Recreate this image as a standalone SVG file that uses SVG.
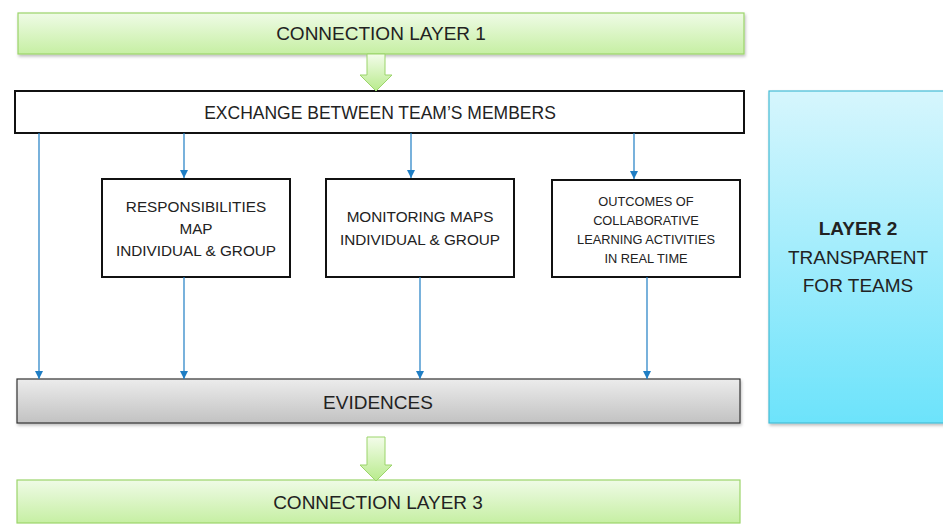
<svg xmlns="http://www.w3.org/2000/svg" width="943" height="525" viewBox="0 0 943 525">
<defs>
<linearGradient id="gGreen" x1="0" y1="0" x2="0" y2="1"><stop offset="0" stop-color="#effbe6"/><stop offset="1" stop-color="#c6efa3"/></linearGradient>
<linearGradient id="gArrow" x1="0" y1="0" x2="0" y2="1"><stop offset="0" stop-color="#f3fcea"/><stop offset="1" stop-color="#b8eb8c"/></linearGradient>
<linearGradient id="gGray" x1="0" y1="0" x2="0" y2="1"><stop offset="0" stop-color="#ececec"/><stop offset="1" stop-color="#c2c2c2"/></linearGradient>
<linearGradient id="gCyan" x1="0" y1="0" x2="0" y2="1"><stop offset="0" stop-color="#d6f6fd"/><stop offset="1" stop-color="#6ce3fb"/></linearGradient>
<filter id="sh" x="-5%" y="-10%" width="110%" height="130%"><feDropShadow dx="1" dy="2" stdDeviation="1.5" flood-color="#000" flood-opacity="0.25"/></filter>
<marker id="ah" viewBox="0 0 8 8" refX="8" refY="4" markerWidth="8" markerHeight="8" orient="auto" markerUnits="userSpaceOnUse">
<path d="M0,0 L8,4 L0,8 Z" fill="#1f7ec4"/></marker>
</defs>
<style>
text{font-family:"Liberation Sans",Arial,sans-serif;fill:#222;text-anchor:middle}
.t19{font-size:19px}
.t17{font-size:17.5px}
.t15{font-size:15.3px}
.t13{font-size:12.8px}
.box{fill:#fff;stroke:#111;stroke-width:2}
.link{stroke:#1f7ec4;stroke-width:1.2;fill:none}
.barrow{fill:url(#gArrow);stroke:#9bd46a;stroke-width:1}
</style>

<g id="layer1">
<rect x="18" y="13" width="726" height="41" fill="url(#gGreen)" stroke="#9bd46a" stroke-width="1.2" filter="url(#sh)"/>
<text class="t19" x="381" y="40">CONNECTION LAYER 1</text>
</g>

<g id="exchange">
<rect class="box" x="15" y="91" width="729" height="42"/>
<text class="t17" x="380" y="119">EXCHANGE BETWEEN TEAM’S MEMBERS</text>
</g>

<g id="responsibilities">
<rect class="box" x="102" y="179" width="188" height="98"/>
<text class="t15" x="196" y="212">RESPONSIBILITIES</text>
<text class="t15" x="196" y="234">MAP</text>
<text class="t15" x="196" y="256">INDIVIDUAL &amp; GROUP</text>
</g>

<g id="monitoring">
<rect class="box" x="326" y="179" width="188" height="98"/>
<text class="t15" x="420" y="222">MONITORING MAPS</text>
<text class="t15" x="420" y="245">INDIVIDUAL &amp; GROUP</text>
</g>

<g id="outcomes">
<rect class="box" x="552" y="180" width="188" height="97"/>
<text class="t13" x="646" y="206">OUTCOMES OF</text>
<text class="t13" x="646" y="225">COLLABORATIVE</text>
<text class="t13" x="646" y="244">LEARNING ACTIVITIES</text>
<text class="t13" x="646" y="263">IN REAL TIME</text>
</g>

<g id="evidences">
<rect x="17" y="379" width="723" height="44" fill="url(#gGray)" stroke="#333" stroke-width="1.2" filter="url(#sh)"/>
<text class="t19" x="378" y="409">EVIDENCES</text>
</g>

<g id="layer3">
<rect x="17" y="480" width="723" height="43" fill="url(#gGreen)" stroke="#9bd46a" stroke-width="1.2"/>
<text class="t19" x="378" y="509">CONNECTION LAYER 3</text>
</g>

<g id="layer2">
<rect x="769" y="91" width="180" height="332" fill="url(#gCyan)" stroke="#45bcd6" stroke-width="1.2" filter="url(#sh)"/>
<text class="t19" x="858" y="235" font-weight="bold">LAYER 2</text>
<text class="t19" x="858" y="264">TRANSPARENT</text>
<text class="t19" x="858" y="292">FOR TEAMS</text>
</g>

<g id="connectors">
<path class="barrow" d="M367,54 L385,54 L385,75 L392,75 L376,91 L360,75 L367,75 Z"/>
<path class="barrow" d="M367,437 L385,437 L385,465 L392,465 L376,481 L360,465 L367,465 Z"/>
<line class="link" x1="39" y1="133" x2="39" y2="379" marker-end="url(#ah)"/>
<line class="link" x1="184" y1="133" x2="184" y2="178" marker-end="url(#ah)"/>
<line class="link" x1="411" y1="133" x2="411" y2="178" marker-end="url(#ah)"/>
<line class="link" x1="634" y1="133" x2="634" y2="179" marker-end="url(#ah)"/>
<line class="link" x1="184" y1="277" x2="184" y2="379" marker-end="url(#ah)"/>
<line class="link" x1="420" y1="277" x2="420" y2="379" marker-end="url(#ah)"/>
<line class="link" x1="647" y1="277" x2="647" y2="379" marker-end="url(#ah)"/>
</g>
</svg>
